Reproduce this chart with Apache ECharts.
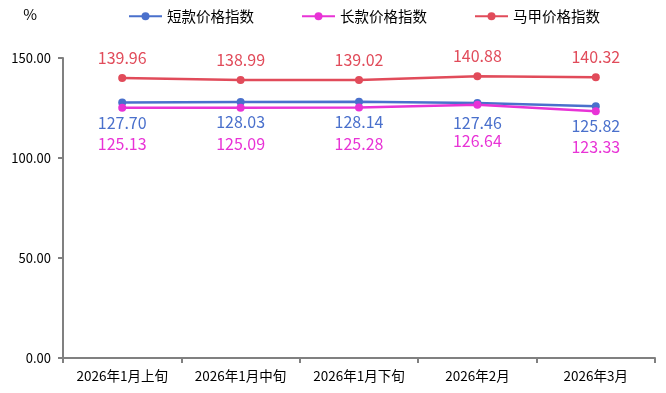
<!DOCTYPE html>
<html><head><meta charset="utf-8">
<script src="https://cdn.jsdelivr.net/npm/echarts@6/dist/echarts.min.js"></script>
<style>html,body{margin:0;padding:0;background:#fff}#c{width:666px;height:393px}</style>
</head><body><div id="c"></div>
<script>
var categories = ['2026年1月上旬','2026年1月中旬','2026年1月下旬','2026年2月','2026年3月'];
var shortIdx = [127.70, 128.03, 128.14, 127.46, 125.82];
var longIdx = [125.13, 125.09, 125.28, 126.64, 123.33];
var vestIdx = [139.96, 138.99, 139.02, 140.88, 140.32];
var yTicks = [0, 50, 100, 150];
var FONT = '"Noto Sans CJK SC", "Noto Sans", sans-serif';
var chart = echarts.init(document.getElementById('c'));
function mk(name, data, color, pos, dist) {
  return {
    name: name, type: 'line', data: data,
    symbol: 'circle', symbolSize: 8,
    lineStyle: {width: 2.5, color: color},
    itemStyle: {color: color},
    label: {show: true, position: pos, distance: dist, color: color, fontSize: 16, fontFamily: FONT,
      formatter: function(p){ return p.value.toFixed(2); }}
  };
}
chart.setOption({
  animation: false,
  textStyle: {fontFamily: FONT},
  legend: {
    top: 4, left: 123, itemWidth: 33, itemHeight: 10, itemGap: 47,
    textStyle: {fontSize: 14.5, color: '#000', fontFamily: FONT},
    data: ['短款价格指数','长款价格指数','马甲价格指数']
  },
  grid: {left: 63, right: 11, top: 58, bottom: 35},
  xAxis: {
    type: 'category', data: categories, boundaryGap: true,
    axisLine: {lineStyle: {color: '#808080', width: 2}},
    axisTick: {show: true, length: 5, lineStyle: {color: '#808080', width: 2}},
    axisLabel: {color: '#000', fontSize: 13.5, margin: 11, interval: 0, hideOverlap: false, fontFamily: FONT}
  },
  yAxis: {
    type: 'value', min: yTicks[0], max: yTicks[yTicks.length-1], interval: 50,
    name: '%', nameLocation: 'end', nameGap: 36,
    nameTextStyle: {color: '#000', fontSize: 15, align: 'right', padding: [0, 26, 0, 0]},
    axisLine: {show: true, lineStyle: {color: '#808080', width: 2}},
    axisTick: {show: true, length: 5, lineStyle: {color: '#808080', width: 2}},
    splitLine: {show: false},
    axisLabel: {color: '#000', fontSize: 13, margin: 12, formatter: function(v){ return v.toFixed(2); }}
  },
  series: [
    mk('短款价格指数', shortIdx, '#4A70CC', 'bottom', 8),
    mk('长款价格指数', longIdx, '#E833D6', 'bottom', 24),
    mk('马甲价格指数', vestIdx, '#E14B5A', 'top', 8)
  ]
});
</script></body></html>
